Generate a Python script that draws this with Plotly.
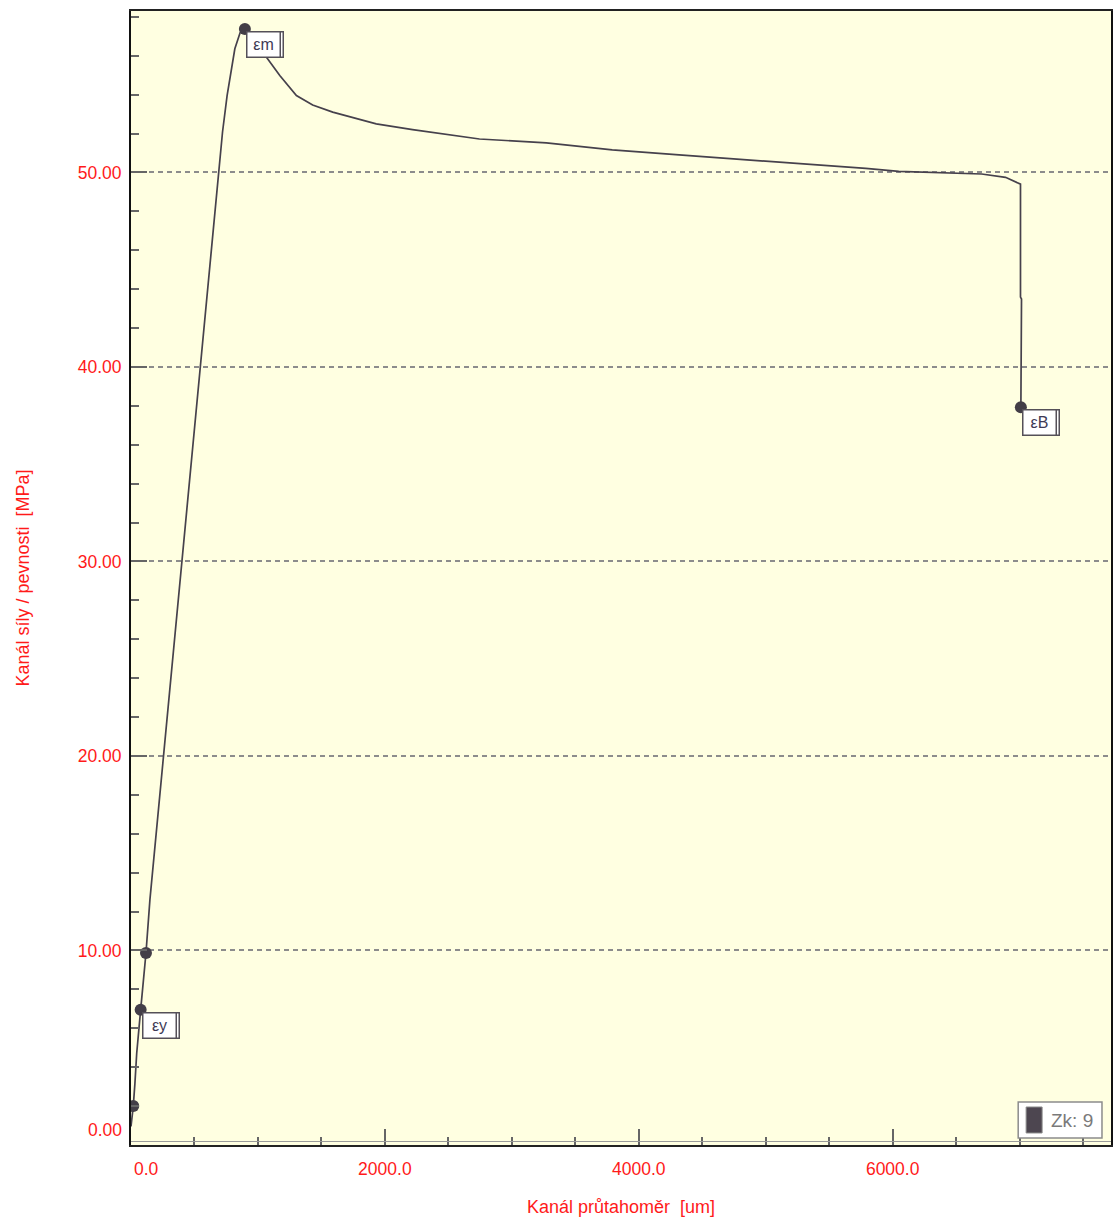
import plotly.graph_objects as go

# Tensile test record: extensometer channel vs. force/strength channel
strain_um = [0, 18, 31, 45, 76, 118, 149, 401, 687, 721, 757, 818, 860, 897,
             1070, 1172, 1303, 1431, 1589, 1932, 2218, 2745, 3272, 3791, 4318,
             4845, 5364, 5788, 6048, 6365, 6701, 6889, 7007, 7007, 7015, 7010]
stress_mpa = [0.95, 2.0, 3.18, 4.72, 6.95, 9.87, 12.6, 30.0, 50.0, 52.08, 53.95,
              56.36, 57.2, 57.38, 55.9, 54.98, 53.95, 53.47, 53.1, 52.5, 52.2,
              51.72, 51.52, 51.16, 50.9, 50.66, 50.4, 50.21, 50.06, 49.98, 49.92,
              49.75, 49.4, 43.59, 43.49, 37.93]

# Evaluated points on the curve and their tags
key_x = [18, 76, 118, 897, 7010]
key_y = [2.0, 6.95, 9.87, 57.38, 37.93]
key_tags = ["", "εy", "", "εm", "εB"]

x_ticks = [0, 2000, 4000, 6000]
y_ticks = [0, 10, 20, 30, 40, 50]
legend_text = "Zk: 9"

RED = "#ff1a1a"
FONT = "Liberation Sans, Arial, sans-serif"
CURVE = "#46414c"

fig = go.Figure()
fig.add_trace(go.Scatter(
    x=strain_um, y=stress_mpa, mode="lines",
    line=dict(color=CURVE, width=1.7), showlegend=False, hoverinfo="skip"))
fig.add_trace(go.Scatter(
    x=key_x, y=key_y, mode="markers",
    marker=dict(color="#433e47", size=12), showlegend=False, hoverinfo="skip"))

annotations = []
for kx, ky, tag in zip(key_x, key_y, key_tags):
    if not tag:
        continue
    common = dict(x=kx, y=ky, xref="x", yref="y", showarrow=False,
                  xanchor="left", yanchor="top", yshift=-2,
                  width=29, height=21, borderpad=1.5, borderwidth=1.5,
                  bordercolor="#555058", bgcolor="#ffffff", align="center")
    # empty back box gives the doubled right edge
    annotations.append(dict(text="\u00a0", xshift=4,
                            font=dict(family=FONT, size=16, color="#3e3a55"),
                            **common))
    annotations.append(dict(text=tag, xshift=1,
                            font=dict(family=FONT, size=16, color="#3e3a55"),
                            **common))

# zero labels sit just inside the corner
annotations.append(dict(x=0, y=0, xref="paper", yref="y", text="0.00",
                        showarrow=False, xanchor="right", yanchor="middle",
                        xshift=-7, yshift=15,
                        font=dict(family=FONT, size=17.5, color=RED)))
annotations.append(dict(x=0, y=0, xref="x", yref="paper", text="0.0",
                        showarrow=False, xanchor="left", yanchor="top",
                        xshift=1, yshift=-12,
                        font=dict(family=FONT, size=17.5, color=RED)))

# legend entry
annotations.append(dict(x=0.9908, y=0.0062, xref="paper", yref="paper",
                        xanchor="right", yanchor="bottom", showarrow=False,
                        text=legend_text + "\u00a0", align="right",
                        width=76, height=28, borderpad=2.5,
                        font=dict(family=FONT, size=19, color="#7a7a7a")))

shapes = [
    dict(type="rect", xref="paper", yref="paper",
         x0=0.9053, x1=0.9908, y0=0.0062, y1=0.0379,
         fillcolor="#ffffff", line=dict(color="#8c8c8c", width=1.5), layer="above"),
    dict(type="rect", xref="paper", yref="paper",
         x0=0.9134, x1=0.9297, y0=0.0106, y1=0.0335,
         fillcolor="#4d4650", line=dict(color="#8a8a8a", width=1), layer="above"),
    dict(type="line", xref="paper", yref="paper", x0=0, x1=1, y0=0.0031, y1=0.0031,
         line=dict(color="#9a9a9a", width=1), layer="above"),
]

fig.update_layout(
    width=1115, height=1225,
    margin=dict(l=131, r=2, t=11, b=80),
    paper_bgcolor="#ffffff", plot_bgcolor="#ffffe1",
    annotations=annotations, shapes=shapes,
    font=dict(family=FONT, color=RED),
)

fig.update_xaxes(
    range=[0, 7720], showgrid=False, zeroline=False,
    showline=True, linecolor="#222222", linewidth=2, mirror=True,
    tickmode="array", tickvals=x_ticks,
    ticktext=["" if v == 0 else f"{v:.1f}" for v in x_ticks],
    ticks="inside", ticklen=16, tickwidth=1.5, tickcolor="#666666",
    ticklabelstandoff=7,
    tickfont=dict(family=FONT, size=17.5, color=RED),
    minor=dict(tick0=0, dtick=500, ticks="inside", ticklen=8,
               tickwidth=1.5, tickcolor="#666666", showgrid=False),
    title=dict(text="Kanál průtahoměr\u00a0\u00a0[um]", standoff=22,
               font=dict(family=FONT, size=18, color=RED)),
)

fig.update_yaxes(
    range=[0, 58.3], zeroline=False,
    showgrid=True, gridcolor="#8c8c8c", griddash="5px,4px", gridwidth=1.5,
    showline=True, linecolor="#111111", linewidth=2, mirror=True,
    tickmode="array", tickvals=y_ticks,
    ticktext=["" if v == 0 else f"{v:.2f}" for v in y_ticks],
    ticks="inside", ticklen=16, tickwidth=1.5, tickcolor="#666666",
    ticklabelstandoff=4,
    tickfont=dict(family=FONT, size=17.5, color=RED),
    minor=dict(tick0=0, dtick=2, ticks="inside", ticklen=8,
               tickwidth=1.5, tickcolor="#666666", showgrid=False),
    title=dict(text="Kanál síly / pevnosti\u00a0\u00a0[MPa]", standoff=43,
               font=dict(family=FONT, size=18, color=RED)),
)

fig.write_html("out.html")
